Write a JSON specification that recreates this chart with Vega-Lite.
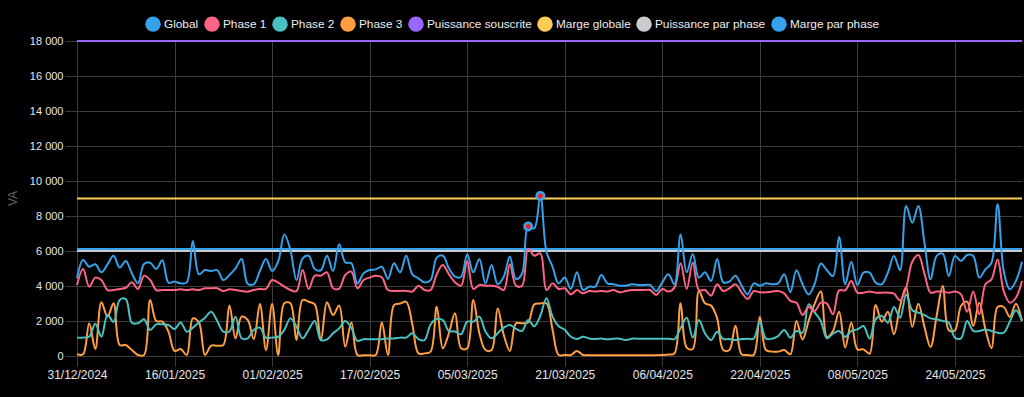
{
"$schema":"https://vega.github.io/schema/vega-lite/v6.json",
"width":945,"height":315,
"autosize":{"type":"none"},
"padding":{"left":77,"top":41,"right":2,"bottom":41},
"background":"#000000",
"config":{"font":"Liberation Sans","view":{"stroke":null},
 "locale":{"number":{"decimal":",","thousands":" ","grouping":[3],"currency":["","€"]}},
 "axis":{"gridColor":"#3c3c3c","tickColor":"#3c3c3c","domain":false,"labelColor":"#e6e6e6","labelFont":"Liberation Sans","titleFont":"Liberation Sans","labelOverlap":false},
 "axisY":{"labelOverlap":false,"labelFontSize":11}},
"datasets":{
"daily":[
{"date":"2024-12-31","Global":4440,"Phase 1":4060,"Phase 2":1050,"Phase 3":100},
{"date":"2025-01-01","Global":5490,"Phase 1":4970,"Phase 2":1050,"Phase 3":100},
{"date":"2025-01-02","Global":5100,"Phase 1":3960,"Phase 2":1100,"Phase 3":1870},
{"date":"2025-01-03","Global":5240,"Phase 1":4480,"Phase 2":1850,"Phase 3":400},
{"date":"2025-01-04","Global":4780,"Phase 1":4340,"Phase 2":1100,"Phase 3":3070},
{"date":"2025-01-05","Global":5240,"Phase 1":3770,"Phase 2":2350,"Phase 3":2250},
{"date":"2025-01-06","Global":5730,"Phase 1":3770,"Phase 2":1950,"Phase 3":3010},
{"date":"2025-01-07","Global":5050,"Phase 1":3830,"Phase 2":3200,"Phase 3":630},
{"date":"2025-01-08","Global":5430,"Phase 1":3900,"Phase 2":3250,"Phase 3":630},
{"date":"2025-01-09","Global":4720,"Phase 1":4210,"Phase 2":1900,"Phase 3":340},
{"date":"2025-01-10","Global":4150,"Phase 1":3830,"Phase 2":1870,"Phase 3":60},
{"date":"2025-01-11","Global":5260,"Phase 1":4590,"Phase 2":2100,"Phase 3":60},
{"date":"2025-01-12","Global":5330,"Phase 1":4340,"Phase 2":1490,"Phase 3":3200},
{"date":"2025-01-13","Global":4970,"Phase 1":3770,"Phase 2":1810,"Phase 3":2000},
{"date":"2025-01-14","Global":5470,"Phase 1":3770,"Phase 2":1810,"Phase 3":1960},
{"date":"2025-01-15","Global":4190,"Phase 1":3770,"Phase 2":1770,"Phase 3":1390},
{"date":"2025-01-16","Global":4250,"Phase 1":3770,"Phase 2":1540,"Phase 3":290},
{"date":"2025-01-17","Global":4150,"Phase 1":3810,"Phase 2":1920,"Phase 3":400},
{"date":"2025-01-18","Global":4210,"Phase 1":3770,"Phase 2":1390,"Phase 3":60},
{"date":"2025-01-19","Global":6570,"Phase 1":3810,"Phase 2":1620,"Phase 3":2150},
{"date":"2025-01-20","Global":4670,"Phase 1":3770,"Phase 2":1920,"Phase 3":1920},
{"date":"2025-01-21","Global":4910,"Phase 1":3870,"Phase 2":2190,"Phase 3":60},
{"date":"2025-01-22","Global":4860,"Phase 1":3870,"Phase 2":2530,"Phase 3":590},
{"date":"2025-01-23","Global":4910,"Phase 1":3870,"Phase 2":2000,"Phase 3":590},
{"date":"2025-01-24","Global":4340,"Phase 1":3710,"Phase 2":1390,"Phase 3":630},
{"date":"2025-01-25","Global":4630,"Phase 1":3810,"Phase 2":1400,"Phase 3":2880},
{"date":"2025-01-26","Global":5010,"Phase 1":3770,"Phase 2":2250,"Phase 3":1010},
{"date":"2025-01-27","Global":5540,"Phase 1":3710,"Phase 2":1010,"Phase 3":2250},
{"date":"2025-01-28","Global":4130,"Phase 1":3680,"Phase 2":1010,"Phase 3":2060},
{"date":"2025-01-29","Global":4100,"Phase 1":3770,"Phase 2":1490,"Phase 3":970},
{"date":"2025-01-30","Global":4860,"Phase 1":3830,"Phase 2":1620,"Phase 3":2970},
{"date":"2025-01-31","Global":5540,"Phase 1":3830,"Phase 2":1050,"Phase 3":340},
{"date":"2025-02-01","Global":4860,"Phase 1":4340,"Phase 2":1050,"Phase 3":2970},
{"date":"2025-02-02","Global":5400,"Phase 1":4190,"Phase 2":1100,"Phase 3":60},
{"date":"2025-02-03","Global":6950,"Phase 1":3960,"Phase 2":1490,"Phase 3":3010},
{"date":"2025-02-04","Global":6060,"Phase 1":3770,"Phase 2":2150,"Phase 3":3010},
{"date":"2025-02-05","Global":4340,"Phase 1":3710,"Phase 2":1680,"Phase 3":900},
{"date":"2025-02-06","Global":5580,"Phase 1":4910,"Phase 2":1010,"Phase 3":3200},
{"date":"2025-02-07","Global":5730,"Phase 1":3830,"Phase 2":1500,"Phase 3":3100},
{"date":"2025-02-08","Global":4970,"Phase 1":4590,"Phase 2":2000,"Phase 3":2950},
{"date":"2025-02-09","Global":4900,"Phase 1":4590,"Phase 2":910,"Phase 3":900},
{"date":"2025-02-10","Global":5730,"Phase 1":4780,"Phase 2":950,"Phase 3":3070},
{"date":"2025-02-11","Global":4860,"Phase 1":3870,"Phase 2":1300,"Phase 3":2340},
{"date":"2025-02-12","Global":6380,"Phase 1":3850,"Phase 2":1580,"Phase 3":2880},
{"date":"2025-02-13","Global":5350,"Phase 1":4630,"Phase 2":2000,"Phase 3":530},
{"date":"2025-02-14","Global":5300,"Phase 1":4820,"Phase 2":1600,"Phase 3":1920},
{"date":"2025-02-15","Global":4150,"Phase 1":3870,"Phase 2":860,"Phase 3":60},
{"date":"2025-02-16","Global":4720,"Phase 1":4340,"Phase 2":960,"Phase 3":40},
{"date":"2025-02-17","Global":4910,"Phase 1":4480,"Phase 2":960,"Phase 3":40},
{"date":"2025-02-18","Global":4950,"Phase 1":4590,"Phase 2":960,"Phase 3":60},
{"date":"2025-02-19","Global":5100,"Phase 1":4500,"Phase 2":960,"Phase 3":1920},
{"date":"2025-02-20","Global":4400,"Phase 1":3770,"Phase 2":1000,"Phase 3":60},
{"date":"2025-02-21","Global":5300,"Phase 1":3720,"Phase 2":1000,"Phase 3":2910},
{"date":"2025-02-22","Global":4780,"Phase 1":3720,"Phase 2":1050,"Phase 3":3000},
{"date":"2025-02-23","Global":5730,"Phase 1":3720,"Phase 2":1050,"Phase 3":3100},
{"date":"2025-02-24","Global":4670,"Phase 1":3680,"Phase 2":1300,"Phase 3":1810},
{"date":"2025-02-25","Global":4440,"Phase 1":4020,"Phase 2":970,"Phase 3":150},
{"date":"2025-02-26","Global":4210,"Phase 1":3770,"Phase 2":910,"Phase 3":150},
{"date":"2025-02-27","Global":4340,"Phase 1":3770,"Phase 2":1800,"Phase 3":250},
{"date":"2025-02-28","Global":5620,"Phase 1":4670,"Phase 2":2110,"Phase 3":2820},
{"date":"2025-03-01","Global":5730,"Phase 1":5200,"Phase 2":2050,"Phase 3":440},
{"date":"2025-03-02","Global":5010,"Phase 1":4670,"Phase 2":1430,"Phase 3":1300},
{"date":"2025-03-03","Global":4530,"Phase 1":4210,"Phase 2":1400,"Phase 3":2440},
{"date":"2025-03-04","Global":4530,"Phase 1":4020,"Phase 2":1240,"Phase 3":440},
{"date":"2025-03-05","Global":5810,"Phase 1":5430,"Phase 2":1960,"Phase 3":440},
{"date":"2025-03-06","Global":4780,"Phase 1":3830,"Phase 2":1960,"Phase 3":3200},
{"date":"2025-03-07","Global":5540,"Phase 1":4060,"Phase 2":2250,"Phase 3":1300},
{"date":"2025-03-08","Global":4150,"Phase 1":4020,"Phase 2":1400,"Phase 3":340},
{"date":"2025-03-09","Global":5200,"Phase 1":4020,"Phase 2":1010,"Phase 3":340},
{"date":"2025-03-10","Global":4100,"Phase 1":3960,"Phase 2":1300,"Phase 3":2720},
{"date":"2025-03-11","Global":4530,"Phase 1":3770,"Phase 2":1620,"Phase 3":1200},
{"date":"2025-03-12","Global":5680,"Phase 1":5240,"Phase 2":1770,"Phase 3":290},
{"date":"2025-03-13","Global":4400,"Phase 1":4020,"Phase 2":1550,"Phase 3":1870},
{"date":"2025-03-14","Global":4700,"Phase 1":4020,"Phase 2":1430,"Phase 3":1870},
{"date":"2025-03-15","Global":7400,"Phase 1":6110,"Phase 2":2060,"Phase 3":1920},
{"date":"2025-03-16","Global":7300,"Phase 1":5730,"Phase 2":1700,"Phase 3":2950},
{"date":"2025-03-17","Global":9150,"Phase 1":5870,"Phase 2":2300,"Phase 3":3000},
{"date":"2025-03-18","Global":5960,"Phase 1":3770,"Phase 2":3300,"Phase 3":3010},
{"date":"2025-03-19","Global":5100,"Phase 1":4150,"Phase 2":2250,"Phase 3":1500},
{"date":"2025-03-20","Global":4150,"Phase 1":3830,"Phase 2":1700,"Phase 3":60},
{"date":"2025-03-21","Global":4480,"Phase 1":3870,"Phase 2":1500,"Phase 3":60},
{"date":"2025-03-22","Global":3830,"Phase 1":3520,"Phase 2":1100,"Phase 3":60},
{"date":"2025-03-23","Global":4780,"Phase 1":3770,"Phase 2":970,"Phase 3":290},
{"date":"2025-03-24","Global":3770,"Phase 1":3580,"Phase 2":1100,"Phase 3":60},
{"date":"2025-03-25","Global":3960,"Phase 1":3710,"Phase 2":1000,"Phase 3":50},
{"date":"2025-03-26","Global":3960,"Phase 1":3680,"Phase 2":970,"Phase 3":50},
{"date":"2025-03-27","Global":4630,"Phase 1":3710,"Phase 2":1000,"Phase 3":50},
{"date":"2025-03-28","Global":4150,"Phase 1":3680,"Phase 2":950,"Phase 3":50},
{"date":"2025-03-29","Global":4100,"Phase 1":3770,"Phase 2":990,"Phase 3":50},
{"date":"2025-03-30","Global":4020,"Phase 1":3640,"Phase 2":990,"Phase 3":50},
{"date":"2025-03-31","Global":4020,"Phase 1":3710,"Phase 2":910,"Phase 3":50},
{"date":"2025-04-01","Global":4100,"Phase 1":3770,"Phase 2":990,"Phase 3":50},
{"date":"2025-04-02","Global":4060,"Phase 1":3770,"Phase 2":990,"Phase 3":50},
{"date":"2025-04-03","Global":4060,"Phase 1":3770,"Phase 2":990,"Phase 3":50},
{"date":"2025-04-04","Global":4060,"Phase 1":3770,"Phase 2":990,"Phase 3":50},
{"date":"2025-04-05","Global":3710,"Phase 1":3490,"Phase 2":990,"Phase 3":50},
{"date":"2025-04-06","Global":4210,"Phase 1":3830,"Phase 2":990,"Phase 3":60},
{"date":"2025-04-07","Global":4670,"Phase 1":3680,"Phase 2":990,"Phase 3":80},
{"date":"2025-04-08","Global":4100,"Phase 1":3910,"Phase 2":970,"Phase 3":150},
{"date":"2025-04-09","Global":6950,"Phase 1":5300,"Phase 2":1580,"Phase 3":3010},
{"date":"2025-04-10","Global":4780,"Phase 1":3830,"Phase 2":2190,"Phase 3":480},
{"date":"2025-04-11","Global":5830,"Phase 1":5350,"Phase 2":1050,"Phase 3":400},
{"date":"2025-04-12","Global":4480,"Phase 1":3770,"Phase 2":2060,"Phase 3":3720},
{"date":"2025-04-13","Global":4780,"Phase 1":3770,"Phase 2":1300,"Phase 3":3010},
{"date":"2025-04-14","Global":4290,"Phase 1":3450,"Phase 2":910,"Phase 3":2880},
{"date":"2025-04-15","Global":5540,"Phase 1":4100,"Phase 2":1390,"Phase 3":2150},
{"date":"2025-04-16","Global":4210,"Phase 1":3710,"Phase 2":970,"Phase 3":340},
{"date":"2025-04-17","Global":4250,"Phase 1":3870,"Phase 2":970,"Phase 3":340},
{"date":"2025-04-18","Global":4590,"Phase 1":4100,"Phase 2":910,"Phase 3":1730},
{"date":"2025-04-19","Global":4020,"Phase 1":3640,"Phase 2":970,"Phase 3":100},
{"date":"2025-04-20","Global":3520,"Phase 1":3260,"Phase 2":990,"Phase 3":60},
{"date":"2025-04-21","Global":4150,"Phase 1":3710,"Phase 2":990,"Phase 3":60},
{"date":"2025-04-22","Global":4020,"Phase 1":3640,"Phase 2":1960,"Phase 3":2250},
{"date":"2025-04-23","Global":4150,"Phase 1":3640,"Phase 2":990,"Phase 3":340},
{"date":"2025-04-24","Global":4100,"Phase 1":3680,"Phase 2":990,"Phase 3":250},
{"date":"2025-04-25","Global":4150,"Phase 1":3710,"Phase 2":1140,"Phase 3":250},
{"date":"2025-04-26","Global":4670,"Phase 1":3580,"Phase 2":1490,"Phase 3":340},
{"date":"2025-04-27","Global":3650,"Phase 1":3150,"Phase 2":1050,"Phase 3":100},
{"date":"2025-04-28","Global":4900,"Phase 1":3050,"Phase 2":1430,"Phase 3":2000},
{"date":"2025-04-29","Global":4100,"Phase 1":2340,"Phase 2":1330,"Phase 3":950},
{"date":"2025-04-30","Global":3520,"Phase 1":2800,"Phase 2":2950,"Phase 3":2000},
{"date":"2025-05-01","Global":4130,"Phase 1":2570,"Phase 2":2480,"Phase 3":2990},
{"date":"2025-05-02","Global":5280,"Phase 1":3050,"Phase 2":2000,"Phase 3":3680},
{"date":"2025-05-03","Global":4900,"Phase 1":2990,"Phase 2":1010,"Phase 3":1090},
{"date":"2025-05-04","Global":4570,"Phase 1":2380,"Phase 2":1280,"Phase 3":1430},
{"date":"2025-05-05","Global":6800,"Phase 1":3750,"Phase 2":1430,"Phase 3":2530},
{"date":"2025-05-06","Global":4100,"Phase 1":3750,"Phase 2":1090,"Phase 3":480},
{"date":"2025-05-07","Global":5390,"Phase 1":4290,"Phase 2":1430,"Phase 3":1900},
{"date":"2025-05-08","Global":4060,"Phase 1":3620,"Phase 2":1520,"Phase 3":380},
{"date":"2025-05-09","Global":4760,"Phase 1":3620,"Phase 2":1710,"Phase 3":380},
{"date":"2025-05-10","Global":4760,"Phase 1":3680,"Phase 2":990,"Phase 3":130},
{"date":"2025-05-11","Global":4190,"Phase 1":3620,"Phase 2":2100,"Phase 3":2910},
{"date":"2025-05-12","Global":4100,"Phase 1":3620,"Phase 2":2290,"Phase 3":1960},
{"date":"2025-05-13","Global":4760,"Phase 1":3620,"Phase 2":1900,"Phase 3":2530},
{"date":"2025-05-14","Global":5720,"Phase 1":3560,"Phase 2":2800,"Phase 3":1240},
{"date":"2025-05-15","Global":4900,"Phase 1":3180,"Phase 2":2190,"Phase 3":2860},
{"date":"2025-05-16","Global":8570,"Phase 1":3900,"Phase 2":3520,"Phase 3":3940},
{"date":"2025-05-17","Global":7620,"Phase 1":5390,"Phase 2":2610,"Phase 3":1660},
{"date":"2025-05-18","Global":8570,"Phase 1":5770,"Phase 2":2480,"Phase 3":2990},
{"date":"2025-05-19","Global":6480,"Phase 1":4710,"Phase 2":2340,"Phase 3":1660},
{"date":"2025-05-20","Global":4380,"Phase 1":3620,"Phase 2":2150,"Phase 3":510},
{"date":"2025-05-21","Global":5720,"Phase 1":3680,"Phase 2":2100,"Phase 3":2290},
{"date":"2025-05-22","Global":5850,"Phase 1":3680,"Phase 2":2000,"Phase 3":4000},
{"date":"2025-05-23","Global":4570,"Phase 1":3620,"Phase 2":1900,"Phase 3":1470},
{"date":"2025-05-24","Global":5720,"Phase 1":3680,"Phase 2":1050,"Phase 3":1470},
{"date":"2025-05-25","Global":5430,"Phase 1":3520,"Phase 2":1010,"Phase 3":2860},
{"date":"2025-05-26","Global":5770,"Phase 1":2530,"Phase 2":2000,"Phase 3":3110},
{"date":"2025-05-27","Global":5720,"Phase 1":3680,"Phase 2":1430,"Phase 3":1710},
{"date":"2025-05-28","Global":4480,"Phase 1":2380,"Phase 2":1430,"Phase 3":3050},
{"date":"2025-05-29","Global":4950,"Phase 1":4100,"Phase 2":1520,"Phase 3":1520},
{"date":"2025-05-30","Global":5330,"Phase 1":4380,"Phase 2":1430,"Phase 3":440},
{"date":"2025-05-31","Global":8670,"Phase 1":5520,"Phase 2":1330,"Phase 3":2800},
{"date":"2025-06-01","Global":4860,"Phase 1":3710,"Phase 2":1330,"Phase 3":2800},
{"date":"2025-06-02","Global":3810,"Phase 1":3050,"Phase 2":1960,"Phase 3":2230},
{"date":"2025-06-03","Global":4290,"Phase 1":3330,"Phase 2":2610,"Phase 3":2990},
{"date":"2025-06-04","Global":5390,"Phase 1":4290,"Phase 2":2000,"Phase 3":2000}
],
"limits":[
{"series":"Marge par phase","value":6110},
{"series":"Puissance par phase","value":6000},
{"series":"Marge globale","value":9000},
{"series":"Puissance souscrite","value":18000}
],
"alerts":[
{"date":"2025-03-15","value":7400},
{"date":"2025-03-17","value":9150}
]},
"layer":[
{"data":{"name":"limits"},
 "mark":{"type":"rule","strokeWidth":2},
 "encoding":{
  "y":{"field":"value","type":"quantitative","scale":{"domain":[0,18000],"nice":false,"zero":true},
   "axis":{"values":[0,2000,4000,6000,8000,10000,12000,14000,16000,18000],"format":",d","tickCount":10,"labelFontSize":11,"tickSize":12,"labelPadding":2,"grid":true,"labelOverlap":false,"labelBound":false,"labelFlush":false,"labelSeparation":0,"title":"VA","titleColor":"#666666","titleFontSize":12,"titleFontWeight":"normal","titleX":-65,"titleY":157,"titleAlign":"center","titleBaseline":"middle"}},
  "color":{"field":"series","type":"nominal",
   "scale":{"domain":["Global","Phase 1","Phase 2","Phase 3","Puissance souscrite","Marge globale","Puissance par phase","Marge par phase"],
            "range":["#36A2EB","#FF6384","#4BC0C0","#FF9F40","#9966FF","#FFCD56","#C9CBCF","#36A2EB"]},
   "legend":{"orient":"none","legendX":68,"legendY":-25,"direction":"horizontal","title":null,"symbolType":"circle","symbolSize":240,"symbolStrokeWidth":0,"labelFontSize":11.8,"labelColor":"#eeeeee","labelFont":"Liberation Sans","columnPadding":5,"labelOffset":3,"padding":0,
     "encode":{"symbols":{"update":{"fill":{"scale":"color","field":"value"},"fillOpacity":{"value":1},"strokeWidth":{"value":0}}}}}}
 }},
{"data":{"name":"daily"},
 "transform":[{"fold":["Global","Phase 1","Phase 2","Phase 3"],"as":["series","value"]},{"filter":"datum.series === 'Phase 3'"}],
 "mark":{"type":"line","strokeWidth":2,"interpolate":"catmull-rom"},
 "encoding":{
  "x":{"field":"date","type":"temporal","scale":{"type":"utc","domain":[{"year":2024,"month":12,"date":31,"utc":true},{"year":2025,"month":6,"date":4,"utc":true}]},
   "axis":{"values":[{"year":2024,"month":12,"date":31,"utc":true},{"year":2025,"month":1,"date":16,"utc":true},{"year":2025,"month":2,"date":1,"utc":true},{"year":2025,"month":2,"date":17,"utc":true},{"year":2025,"month":3,"date":5,"utc":true},{"year":2025,"month":3,"date":21,"utc":true},{"year":2025,"month":4,"date":6,"utc":true},{"year":2025,"month":4,"date":22,"utc":true},{"year":2025,"month":5,"date":8,"utc":true},{"year":2025,"month":5,"date":24,"utc":true}],
    "format":"%d/%m/%Y","title":null,"labelAngle":0,"labelFontSize":12,"tickSize":10,"labelPadding":3,"grid":true,"labelOverlap":false,"labelFlush":false}},
  "y":{"field":"value","type":"quantitative"},
  "color":{"field":"series","type":"nominal"}
 }},
{"data":{"name":"daily"},
 "transform":[{"fold":["Global","Phase 1","Phase 2","Phase 3"],"as":["series","value"]},{"filter":"datum.series === 'Phase 2'"}],
 "mark":{"type":"line","strokeWidth":2,"interpolate":"catmull-rom"},
 "encoding":{"x":{"field":"date","type":"temporal"},"y":{"field":"value","type":"quantitative"},"color":{"field":"series","type":"nominal"}}},
{"data":{"name":"daily"},
 "transform":[{"fold":["Global","Phase 1","Phase 2","Phase 3"],"as":["series","value"]},{"filter":"datum.series === 'Phase 1'"}],
 "mark":{"type":"line","strokeWidth":2,"interpolate":"catmull-rom"},
 "encoding":{"x":{"field":"date","type":"temporal"},"y":{"field":"value","type":"quantitative"},"color":{"field":"series","type":"nominal"}}},
{"data":{"name":"daily"},
 "transform":[{"fold":["Global","Phase 1","Phase 2","Phase 3"],"as":["series","value"]},{"filter":"datum.series === 'Global'"}],
 "mark":{"type":"line","strokeWidth":2,"interpolate":"catmull-rom"},
 "encoding":{"x":{"field":"date","type":"temporal"},"y":{"field":"value","type":"quantitative"},"color":{"field":"series","type":"nominal"}}},
{"data":{"name":"alerts"},
 "mark":{"type":"point","shape":"circle","filled":true,"fill":"#ff1a1a","stroke":"#36A2EB","strokeWidth":2.5,"size":55,"opacity":1,"fillOpacity":1,"strokeOpacity":1},
 "encoding":{"x":{"field":"date","type":"temporal"},"y":{"field":"value","type":"quantitative"}}}
]
}
